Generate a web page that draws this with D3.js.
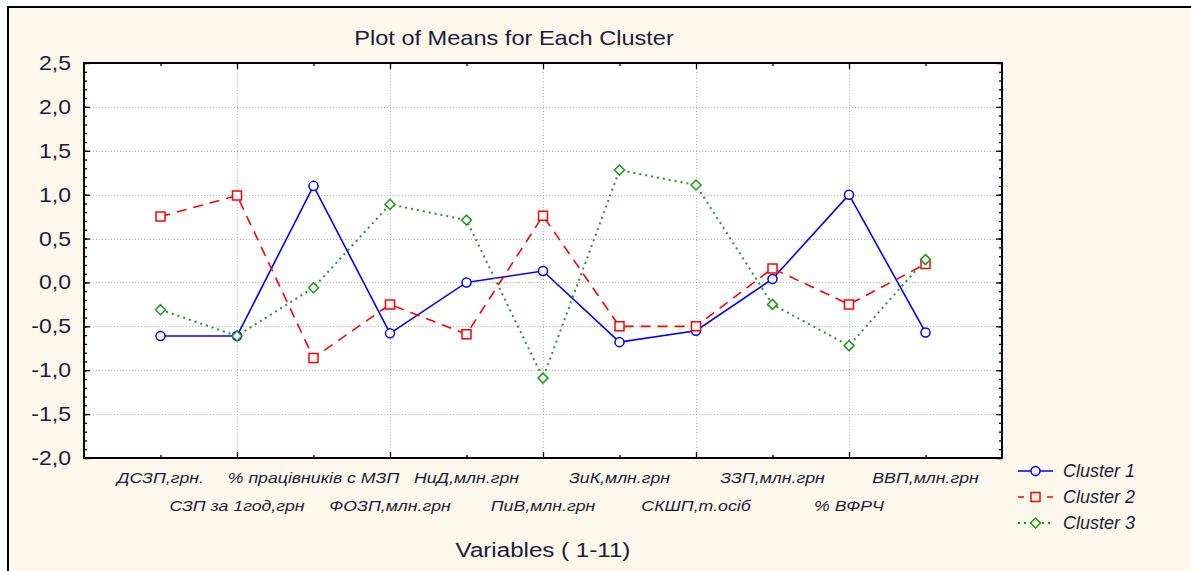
<!DOCTYPE html>
<html>
<head>
<meta charset="utf-8">
<script src="https://cdn.jsdelivr.net/npm/d3@7/dist/d3.min.js"></script>
<style>
  html, body { margin: 0; padding: 0; background: #ffffff; }
  svg { display: block; }
</style>
</head>
<body>
<svg id="chart" width="1191" height="571"></svg>
<script>
const categories = ["ДСЗП,грн.", "СЗП за 1год,грн", "% працівників с МЗП", "ФОЗП,млн.грн", "НиД,млн.грн",
  "ПиВ,млн.грн", "ЗиК,млн.грн", "СКШП,т.осіб", "ЗЗП,млн.грн", "% ВФРЧ", "ВВП,млн.грн"];
const cluster1 = [-0.61, -0.61, 1.10, -0.58, 0.00, 0.13, -0.68, -0.55, 0.04, 1.00, -0.57];
const cluster2 = [0.75, 0.99, -0.86, -0.25, -0.59, 0.76, -0.50, -0.50, 0.16, -0.25, 0.21];
const cluster3 = [-0.31, -0.61, -0.06, 0.89, 0.71, -1.09, 1.28, 1.11, -0.25, -0.72, 0.26];
const seriesNames = ["Cluster 1", "Cluster 2", "Cluster 3"];
const yTicks = [-2.0, -1.5, -1.0, -0.5, 0.0, 0.5, 1.0, 1.5, 2.0, 2.5];
const title = "Plot of Means for Each Cluster";
const xTitle = "Variables ( 1-11)";

const svg = d3.select("#chart");
const W = 1191, H = 571;
const textColor = "#1c1c38";
const font = "Arial, 'Liberation Sans', sans-serif";
const stretch = 1.15; // reference text is horizontally wider than the font's natural width

// outer panel
svg.append("rect").attr("x", 0).attr("y", 0).attr("width", W).attr("height", H).attr("fill", "#ffffff");
svg.append("rect").attr("x", 8).attr("y", 7).attr("width", W).attr("height", H)
  .attr("fill", "#fdf8ec").attr("stroke", "#000").attr("stroke-width", 2);

const plot = {left: 84, right: 1002, top: 63, bottom: 458};
const x = d3.scaleLinear().domain([0, 12]).range([plot.left, plot.right]);
const y = d3.scaleLinear().domain([-2, 2.5]).range([plot.bottom, plot.top]);

svg.append("rect").attr("x", plot.left).attr("y", plot.top)
  .attr("width", plot.right - plot.left).attr("height", plot.bottom - plot.top).attr("fill", "#ffffff");

// gridlines
const grid = svg.append("g").attr("stroke", "#b8b8b8").attr("stroke-width", 1).attr("stroke-dasharray", "1,2");
yTicks.filter(t => t > -2 && t < 2.5).forEach(t => {
  grid.append("line").attr("x1", plot.left).attr("x2", plot.right).attr("y1", Math.round(y(t)) + 0.5).attr("y2", Math.round(y(t)) + 0.5);
});
d3.range(2, 12, 2).forEach(i => {
  grid.append("line").attr("y1", plot.top).attr("y2", plot.bottom).attr("x1", Math.round(x(i)) + 0.5).attr("x2", Math.round(x(i)) + 0.5);
});

// axes with inward ticks
const minorY = d3.range(-2, 2.5001, 0.1);
const idx = d3.range(1, 12);
function styleAxis(g) {
  g.select(".domain").remove();
  g.selectAll(".tick line").attr("stroke", "#000").attr("stroke-width", 1.3);
}
[[plot.left, d3.axisRight], [plot.right, d3.axisLeft]].forEach(([px, ax]) => {
  svg.append("g").attr("transform", `translate(${px},0)`).call(ax(y).tickValues(minorY).tickSize(3).tickFormat("")).call(styleAxis);
  svg.append("g").attr("transform", `translate(${px},0)`).call(ax(y).tickValues(yTicks).tickSize(6).tickFormat("")).call(styleAxis);
});
[[plot.bottom, d3.axisTop], [plot.top, d3.axisBottom]].forEach(([py, ax]) => {
  svg.append("g").attr("transform", `translate(0,${py})`).call(ax(x).tickValues(idx.filter(i => i % 2 === 1)).tickSize(3).tickFormat("")).call(styleAxis);
  svg.append("g").attr("transform", `translate(0,${py})`).call(ax(x).tickValues(idx.filter(i => i % 2 === 0)).tickSize(6).tickFormat("")).call(styleAxis);
});

// plot frame
svg.append("rect").attr("x", plot.left).attr("y", plot.top)
  .attr("width", plot.right - plot.left).attr("height", plot.bottom - plot.top)
  .attr("fill", "none").attr("stroke", "#000").attr("stroke-width", 2);

// helper: stretched text anchored at (cx, baseline) with a given anchor
function stretchedText(parent, str, cx, by, size, anchor, italic) {
  const g = parent.append("g").attr("transform", `translate(${cx},${by}) scale(${stretch},1)`);
  g.append("text").attr("x", 0).attr("y", 0).attr("text-anchor", anchor)
    .attr("font-family", font).attr("font-size", size)
    .attr("font-style", italic ? "italic" : "normal")
    .attr("fill", textColor).text(str);
  return g;
}

// y tick labels
const yl = svg.append("g");
yTicks.forEach(t => {
  stretchedText(yl, d3.format(".1f")(t).replace("\u2212", "-").replace(".", ","), 71, y(t) + 7, 20, "end", false);
});

// x category labels (alternating rows)
const xl = svg.append("g");
categories.forEach((c, i) => {
  stretchedText(xl, c, x(i + 1), i % 2 === 0 ? 483 : 511, 15.4, "middle", true);
});

// titles
stretchedText(svg, title, 514, 45, 20.5, "middle", false);
stretchedText(svg, xTitle, 543, 557, 21, "middle", false);

// series
const series = [
  {name: seriesNames[0], values: cluster1, color: "#0000ff", dash: null, marker: "circle"},
  {name: seriesNames[1], values: cluster2, color: "#ff0000", dash: "10,7", marker: "square"},
  {name: seriesNames[2], values: cluster3, color: "#1f9a1f", dash: "2,4", marker: "diamond"}
];
function markerPath(type) {
  if (type === "circle") return d3.symbol().type(d3.symbolCircle).size(64)();
  if (type === "square") return "M-4.5,-4.5H4.5V4.5H-4.5Z";
  return "M0,-5L5,0L0,5L-5,0Z";
}
const line = d3.line().x((d, i) => x(i + 1)).y(d => y(d));

series.forEach(s => {
  svg.append("path").datum(s.values).attr("d", line)
    .attr("fill", "none").attr("stroke", s.color)
    .attr("stroke-width", s.marker === "diamond" ? 2 : 1.6)
    .attr("stroke-dasharray", s.dash);
});
series.forEach(s => {
  svg.append("g").selectAll("path").data(s.values).join("path")
    .attr("transform", (d, i) => `translate(${x(i + 1)},${y(d)})`)
    .attr("d", markerPath(s.marker))
    .attr("fill", "#ffffff").attr("stroke", s.color).attr("stroke-width", 1.5);
});

// legend
const lg = svg.append("g");
series.forEach((s, i) => {
  const ly = 471 + i * 26;
  lg.append("line").attr("x1", 1018).attr("x2", 1053).attr("y1", ly).attr("y2", ly)
    .attr("stroke", s.color).attr("stroke-width", s.marker === "diamond" ? 2 : 1.6)
    .attr("stroke-dasharray", s.marker === "square" ? "6,23" : s.dash);
  lg.append("path").attr("transform", `translate(1035.5,${ly})`)
    .attr("d", markerPath(s.marker))
    .attr("fill", "#fdf8ec").attr("stroke", s.color).attr("stroke-width", 1.5);
  lg.append("text").attr("x", 1063).attr("y", ly).attr("dy", "0.36em")
    .attr("font-family", font).attr("font-size", 18).attr("font-style", "italic")
    .attr("fill", textColor).text(s.name);
});
</script>
</body>
</html>
